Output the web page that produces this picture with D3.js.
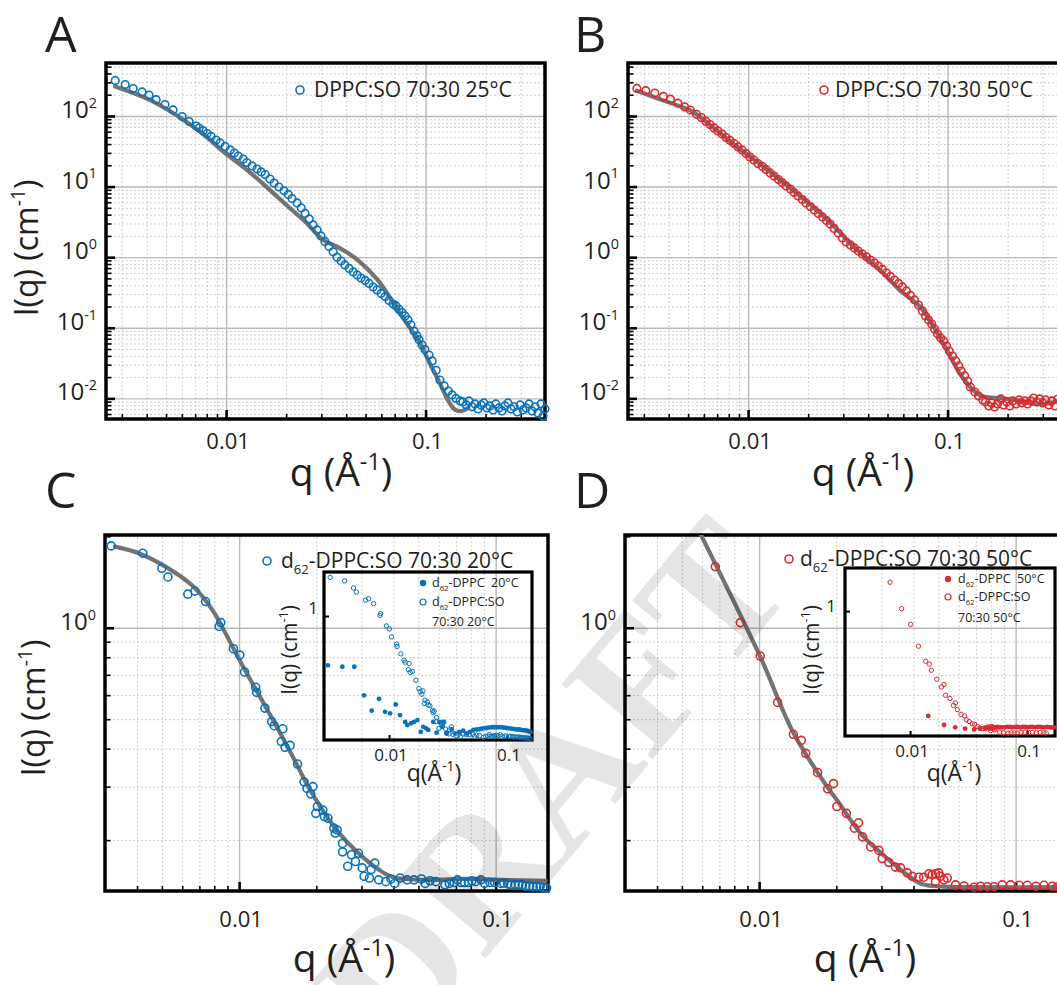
<!DOCTYPE html>
<html>
<head>
<meta charset="utf-8">
<title>SANS fits</title>
<script src="https://cdn.jsdelivr.net/npm/d3@7/dist/d3.min.js"></script>
<style>
  body { margin: 0; background: #fff; }
  svg { display: block; font-family: "Open Sans", "Noto Sans", sans-serif; }
  text { white-space: pre; }
</style>
</head>
<body>
<div id="figure"></div>
<script>
// ---- data (q in 1/A, I in 1/cm) ----

// A: DPPC:SO 70:30 25C
const qA = [0.00278,0.00312,0.00342,0.00379,0.00411,0.00446,0.00494,0.00542,0.00602,0.00653,
  0.00708,0.00733,0.00767,0.00803,0.00841,0.00891,0.00933,0.00989,
  0.0105,0.011,0.0115,0.0122,0.0127,0.0135,0.0143,0.015,0.0157,0.0166,0.0174,0.0184,0.0195,
  0.0205,0.0214,0.0227,0.0238,0.0249,0.0261,0.0273,0.0286,0.0299,
  0.0313,0.0328,0.0344,0.036,0.0377,0.0394,0.0414,0.0434,0.0454,0.0475,0.0498,
  0.0521,0.0546,0.0571,0.0598,0.0627,0.0656,0.0687,0.0711,0.0736,0.0762,0.0789,0.0817,0.0845,0.0875,0.0906,0.0927,0.096,0.0993,
  0.104,0.108,0.113,0.118,0.124,0.13,0.136,0.142,0.149,
  0.154,0.16,0.165,0.171,0.177,0.183,0.19,0.196,0.203,0.21,0.218,0.225,0.233,0.242,0.25,0.259,0.268,0.278,0.288,0.298,0.308,0.319,0.33,0.342,0.354,0.366,0.379,0.388,0.397];
const iA = [319,279,245,219,198,170,145,122,98,83.4,
  72,67.6,62,56.5,51.3,45.7,41.5,37,
  33,29.9,27.1,24.6,21.9,19.6,17.7,16.1,14.8,12.8,11.2,9.87,8.7,
  7.73,6.78,5.86,4.98,4.16,3.48,2.86,2.43,2.0,
  1.67,1.42,1.19,1.0,0.883,0.776,0.692,0.617,0.56,0.507,0.468,
  0.424,0.378,0.343,0.306,0.277,0.244,0.217,0.204,0.182,0.164,0.147,0.129,0.11,0.09,0.0766,0.0678,0.057,0.0493,
  0.041,0.0339,0.025,0.0182,0.015,0.0127,0.0112,0.00998,0.00919,
  0.0089,0.00807,0.00919,0.00759,0.00834,0.00708,0.00807,0.00861,0.00731,0.0078,0.00686,0.00834,0.00731,0.00663,0.0078,0.00861,0.00708,0.00759,0.00641,0.00807,0.00686,0.00731,0.00834,0.00663,0.00759,0.00621,0.00834,0.00562,0.00708];
const qFitA = [0.00278,0.00409,0.0056,0.00764,0.00966,0.0132,0.0166,0.021,0.0246,0.031,0.0364,0.0459,0.0578,0.0679,0.0789,0.0927,0.104,0.117,0.131,0.141,0.152,0.163];
const iFitA = [262,172,104,56,31.5,15.8,8.9,4.9,3.3,1.72,1.39,0.904,0.468,0.24,0.125,0.065,0.0332,0.0171,0.0089,0.00686,0.00663,0.00731];

// B: DPPC:SO 70:30 50C
const qB = [0.00277,0.00307,0.00341,0.00376,0.00408,0.00445,0.00481,0.00513,0.00551,0.00583,
  0.00615,0.00644,0.00675,0.00706,0.0074,0.00775,0.00812,0.00851,0.00891,0.00933,0.00977,
  0.0102,0.0107,0.0112,0.0118,0.0123,0.0129,0.0135,0.0142,0.0148,0.0155,0.0163,0.017,0.0178,0.0187,0.0195,
  0.0205,0.0215,0.0225,0.0236,0.0247,0.0258,0.027,0.0283,0.0297,0.031,0.0326,0.0341,0.0357,0.0374,0.0392,
  0.041,0.043,0.045,0.0471,0.0493,0.0517,0.0542,0.0568,0.0594,0.0622,0.0652,0.0683,0.0715,0.0748,0.0775,0.0803,0.0832,0.0861,0.0891,0.0923,0.0955,0.0989,
  0.102,0.106,0.11,0.114,0.117,0.122,0.126,0.13,0.137,0.143,0.15,
  0.155,0.161,0.166,0.172,0.178,0.185,0.191,0.198,0.205,0.212,0.22,0.228,0.235,0.244,0.252,0.261,0.27,0.28,0.29,0.3,0.31,0.322,0.333,0.345,0.357];
const iB = [246,228,211,189,173,152,134.5,121.6,105.7,94.8,
  83.6,75.8,67.7,61.4,55.6,49.6,45,40.8,36.4,33,29.4,
  26.2,23.8,21.2,19.3,17.5,15.6,14.1,12.6,11.4,10.2,9.24,8.24,7.36,6.56,5.86,
  5.22,4.66,4.16,3.71,3.31,2.95,2.55,2.2,1.87,1.64,1.49,1.35,1.22,1.11,1.01,
  0.912,0.828,0.75,0.67,0.597,0.533,0.475,0.425,0.379,0.332,0.287,0.248,0.21,0.173,0.147,0.129,0.113,0.0962,0.0817,0.0717,0.065,0.0552,
  0.0469,0.0398,0.0339,0.0288,0.0244,0.0208,0.0176,0.0145,0.0123,0.0108,0.00949,
  0.0089,0.0078,0.00861,0.00755,0.00834,0.00982,0.00807,0.0089,0.0078,0.00919,0.00834,0.00949,0.00861,0.00919,0.00834,0.00919,0.0101,0.0089,0.00982,0.00861,0.00949,0.00807,0.00919,0.0078,0.00982];
const qFitB = [0.00277,0.0038,0.00518,0.00656,0.00895,0.0122,0.018,0.0246,0.0336,0.0458,0.0578,0.073,0.0855,0.0998,0.116,0.136,0.153,0.186,0.226,0.274,0.321,0.37,0.4];
const iFitB = [228,164,118,72,35.2,18.3,7.6,3.53,1.44,0.659,0.339,0.197,0.101,0.0469,0.0218,0.0127,0.0105,0.0101,0.00933,0.00834,0.00847,0.00949,0.0101];

// C: d62-DPPC:SO 70:30 20C (also the open symbols of the C inset)
const qC = [0.00317,0.00421,0.005,0.00528,0.00631,0.00672,0.0074,0.00836,0.00848,0.0095,
  0.01006,0.0105,0.0116,0.0117,0.0126,0.0134,0.0137,0.0148,0.0146,0.0151,
  0.0158,0.0169,0.0179,0.0184,0.0194,0.019,0.0202,0.0212,0.0199,0.0215,
  0.0222,0.0234,0.0241,0.0237,0.0253,0.0253,0.0274,0.0292,0.0284,0.0265,
  0.0302,0.0307,0.0327,0.0338,0.0322,0.035,0.0373,0.0391,0.0404,0.0424,
  0.0452,0.0481,0.0514,0.0531,0.0555,0.0585,0.0634,0.066,0.0688,0.071,
  0.0734,0.0757,0.0783,0.0808,0.0835,0.0877,0.0906,0.095,0.099,0.105,
  0.1075,0.1115,0.1145,0.119,0.123,0.127,0.131,0.1355,0.14,0.1445,0.149,0.154,0.158];
const iC = [1.86,1.76,1.57,1.47,1.29,1.32,1.22,1.01,1.04,0.853,
  0.813,0.715,0.637,0.613,0.544,0.491,0.476,0.465,0.422,0.404,
  0.41,0.356,0.311,0.296,0.3,0.284,0.258,0.251,0.245,0.239,
  0.236,0.219,0.216,0.211,0.195,0.183,0.179,0.181,0.17,0.164,
  0.162,0.152,0.16,0.168,0.15,0.148,0.146,0.149,0.144,0.15,
  0.148,0.148,0.149,0.144,0.147,0.146,0.1425,0.144,0.145,0.148,
  0.145,0.145,0.145,0.147,0.146,0.148,0.144,0.145,0.145,0.144,
  0.1445,0.1435,0.1425,0.143,0.1425,0.1425,0.141,0.1413,0.1405,0.1405,0.1405,0.1396,0.139];
const qFitC = [0.00328,0.00406,0.00516,0.00655,0.00784,0.0094,0.0105,0.0117,0.0135,0.0161,0.0184,0.0212,0.0244,0.0288,0.035,0.0398,0.055,0.0755,0.105,0.157];
const iFitC = [1.85,1.76,1.59,1.38,1.15,0.87,0.73,0.62,0.5,0.38,0.305,0.25,0.212,0.183,0.16,0.151,0.148,0.149,0.148,0.147];

// D: d62-DPPC:SO 70:30 50C (also the open symbols of the D inset)
const qD = [0.00675,0.00845,0.0101,0.0118,0.0136,0.0146,0.0152,0.0169,0.0185,0.0195,
  0.0201,0.0219,0.0235,0.0244,0.0253,0.0272,0.0293,0.0302,0.032,0.034,
  0.0356,0.0378,0.0395,0.0419,0.0438,0.0459,0.0473,0.0487,0.0501,0.0509,
  0.0525,0.0541,0.0487,0.0583,0.0629,0.0688,0.073,0.0776,0.0823,0.0887,
  0.0956,0.103,0.111,0.12,0.129,0.139,0.1455];
const iD = [1.59,1.04,0.807,0.568,0.446,0.426,0.386,0.334,0.295,0.307,
  0.258,0.245,0.219,0.228,0.205,0.19,0.185,0.174,0.169,0.163,
  0.162,0.156,0.152,0.151,0.151,0.155,0.154,0.155,0.156,0.152,
  0.148,0.15,0.146,0.1425,0.1413,0.14,0.141,0.1405,0.1405,0.1425,
  0.1425,0.142,0.142,0.141,0.142,0.141,0.1405];
const qFitD = [0.0058,0.0101,0.0136,0.0184,0.0201,0.0248,0.0297,0.0356,0.0426,0.0524,0.0708,0.161];
const iFitD = [2.1,0.803,0.451,0.3,0.271,0.211,0.182,0.16,0.144,0.1406,0.14,0.14];

// insets: filled symbols, d62-DPPC alone
const qInC = [0.00303,0.00402,0.00508,0.00614,0.00713,0.00822,0.00925,0.0102,0.0114,0.0124,
  0.0137,0.0143,0.0154,0.0163,0.0174,0.0186,0.0195,0.0206,0.0215,0.0237,
  0.0253,0.0267,0.028,0.0289,0.0308,0.034,0.0362,0.0394,0.0426,0.0455,
  0.0485,0.0518,0.0553,0.0582,0.061,0.064,0.0673,0.0705,0.0742,0.078,0.0818,0.086,0.0902,0.0946,
  0.0994,0.104,0.1096,0.115,0.121,0.127,0.133,0.14,0.147,0.153,0.159];
const iInC = [0.452,0.442,0.442,0.279,0.218,0.264,0.214,0.209,0.241,0.203,
  0.182,0.173,0.178,0.182,0.1875,0.155,0.168,0.164,0.16,0.182,
  0.153,0.182,0.168,0.182,0.151,0.161,0.151,0.155,0.158,0.151,
  0.155,0.16,0.161,0.162,0.163,0.164,0.165,0.166,0.167,0.167,0.167,0.167,0.167,0.166,
  0.165,0.164,0.163,0.162,0.161,0.161,0.16,0.159,0.158,0.156,0.1545];
const qInD = [0.0143,0.0195,0.0243,0.0295,0.0352,0.0396,0.0437,0.0455,0.0483,0.0508,0.0533,0.056,0.0588,0.0618,
  0.0648,0.068,0.0716,0.075,0.0789,0.083,0.0871,0.0915,0.0962,0.101,0.106,0.111,0.117,0.123,0.129,0.135,0.1425,0.149,0.157,0.163,0.17];
const iInD = [0.185,0.16,0.154,0.151,0.149,0.151,0.153,0.152,0.151,0.153,0.154,0.155,0.154,0.154,
  0.154,0.155,0.155,0.154,0.155,0.155,0.154,0.155,0.155,0.154,0.155,0.155,0.154,0.155,0.155,0.154,0.154,0.155,0.154,0.154,0.154];

// ---- styling ----
const W = 1057, H = 985;
const blue = "#0a72ba", red = "#dc2a2e", fitGray = "#737373", ink = "#231f20";

const panels = [
  { letter: "A", lx: 45, ly: 52, x0: 106, x1: 545, y0: 63, y1: 419,
    qDom: [0.0025, 0.397], iDom: [0.0051, 563], q: qA, I: iA, fq: qFitA, fi: iFitA,
    color: blue, r: 3.8, xLabDy: 30,
    legend: { cx: 300, cy: 90, tx: 314, ty: 97, parts: [{ t: "DPPC:SO 70:30 25°C" }] },
    yTitle: { x: 38, y: 248 }, xTitle: { x: 341, y: 486 } },
  { letter: "B", lx: 574, ly: 52, x0: 628, x1: 1067, y0: 63, y1: 419,
    qDom: [0.0025, 0.397], iDom: [0.0051, 563], q: qB, I: iB, fq: qFitB, fi: iFitB,
    color: red, r: 3.8, xLabDy: 30,
    legend: { cx: 824, cy: 90, tx: 835, ty: 97, parts: [{ t: "DPPC:SO 70:30 50°C" }] },
    yTitle: null, xTitle: { x: 863, y: 486 } },
  { letter: "C", lx: 45, ly: 508, x0: 105, x1: 548, y0: 535, y1: 891,
    qDom: [0.003, 0.16], iDom: [0.136, 2.02], q: qC, I: iC, fq: qFitC, fi: iFitC,
    color: blue, r: 4, xLabDy: 36,
    legend: { cx: 267, cy: 561, tx: 281, ty: 568, parts: [{ t: "d" }, { sub: "62" }, { t: "-DPPC:SO 70:30 20°C" }] },
    yTitle: { x: 45, y: 708 }, xTitle: { x: 344, y: 972 },
    inset: { x0: 324, x1: 532, y0: 572, y1: 740, qDom: [0.00281, 0.163], iDom: [0.136, 2.03],
      fq: qInC, fi: iInC, oneX: 318, oneY: 614, yT: { x: 297, y: 650 }, xT: { x: 434, y: 781 },
      lg: { cx: 423, tx: 432, y1: 587, y2: 606, y3: 626, a: "  20°C", b: "70:30 20°C" } } },
  { letter: "D", lx: 574, ly: 508, x0: 625, x1: 1068, y0: 535, y1: 891,
    qDom: [0.003, 0.16], iDom: [0.136, 2.02], q: qD, I: iD, fq: qFitD, fi: iFitD,
    color: red, r: 4, xLabDy: 36,
    legend: { cx: 789, cy: 559, tx: 800, ty: 566, parts: [{ t: "d" }, { sub: "62" }, { t: "-DPPC:SO 70:30 50°C" }] },
    yTitle: null, xTitle: { x: 865, y: 972 },
    inset: { x0: 845, x1: 1055, y0: 568, y1: 736, qDom: [0.00278, 0.173], iDom: [0.134, 2.0],
      fq: qInD, fi: iInD, oneX: 836, oneY: 612, yT: { x: 819, y: 650 }, xT: { x: 954, y: 781 },
      lg: { cx: 948, tx: 958, y1: 583, y2: 601, y3: 622, a: "  50°C", b: "70:30 50°C" } } }
];

// ---- helpers ----
const svg = d3.select("#figure").append("svg")
  .attr("width", W).attr("height", H).attr("viewBox", `0 0 ${W} ${H}`);
svg.append("rect").attr("width", W).attr("height", H).attr("fill", "#fff");
const defs = svg.append("defs");

function pairs(q, v) {
  const n = Math.min(q.length, v.length);
  return d3.range(n).map(i => [q[i], v[i]]);
}

// 1..9 x 10^n inside the domain
function logTicks(dom) {
  const out = [];
  const lo = Math.floor(Math.log10(dom[0])), hi = Math.ceil(Math.log10(dom[1]));
  for (let e = lo; e <= hi; e++) {
    for (let k = 1; k < 10; k++) {
      const v = +(k * Math.pow(10, e)).toPrecision(6);
      if (v > dom[0] * 1.0001 && v < dom[1] * 0.9999) out.push({ v, major: k === 1 });
    }
  }
  return out;
}

// text with sup/sub parts
function richText(parent, x, y, parts, size, anchor) {
  const t = parent.append("text").attr("x", x).attr("y", y)
    .attr("font-size", size).attr("fill", ink).attr("text-anchor", anchor || "start");
  let shift = 0;
  parts.forEach(p => {
    const s = t.append("tspan");
    let target = 0, fs = size;
    if (p.sup != null) { target = -size * 0.42; fs = size * 0.6; s.text(p.sup); }
    else if (p.sub != null) { target = size * 0.3; fs = size * 0.62; s.text(p.sub); }
    else s.text(p.t);
    s.attr("font-size", fs).attr("dy", target - shift);
    shift = target;
  });
  return t;
}

function axisLines(g, axisFn, scale, vals, size, translate, stroke, width, dash) {
  const a = g.append("g").attr("transform", translate)
    .call(axisFn(scale).tickValues(vals).tickSize(size).tickFormat(""));
  a.select(".domain").remove();
  a.selectAll("line").attr("stroke", stroke).attr("stroke-width", width)
    .attr("stroke-dasharray", dash || null);
  return a;
}

function drawPanel(p, idx) {
  const g = svg.append("g");
  const x = d3.scaleLog().domain(p.qDom).range([p.x0, p.x1]);
  const y = d3.scaleLog().domain(p.iDom).range([p.y1, p.y0]);
  const xt = logTicks(p.qDom), yt = logTicks(p.iDom);
  const w = p.x1 - p.x0, h = p.y1 - p.y0;
  const minor = t => t.filter(d => !d.major).map(d => d.v);
  const major = t => t.filter(d => d.major).map(d => d.v);

  // grid
  axisLines(g, d3.axisBottom, x, minor(xt), -h, `translate(0,${p.y1})`, "#c9c9c9", 0.9, "2,2");
  axisLines(g, d3.axisLeft, y, minor(yt), -w, `translate(${p.x0},0)`, "#c9c9c9", 0.9, "2,2");
  axisLines(g, d3.axisBottom, x, major(xt), -h, `translate(0,${p.y1})`, "#b9b9b9", 1.4);
  axisLines(g, d3.axisLeft, y, major(yt), -w, `translate(${p.x0},0)`, "#b9b9b9", 1.4);

  // frame
  g.append("rect").attr("x", p.x0).attr("y", p.y0).attr("width", w).attr("height", h)
    .attr("fill", "none").attr("stroke", "#000").attr("stroke-width", 3.5);

  // inward ticks
  axisLines(g, d3.axisBottom, x, minor(xt), -4, `translate(0,${p.y1 - 1})`, "#000", 1.6);
  axisLines(g, d3.axisBottom, x, major(xt), -8, `translate(0,${p.y1 - 1})`, "#000", 2.6);
  axisLines(g, d3.axisLeft, y, minor(yt), -4.5, `translate(${p.x0 + 1},0)`, "#000", 1.6);
  axisLines(g, d3.axisLeft, y, major(yt), -8, `translate(${p.x0 + 1},0)`, "#000", 2.6);

  // tick labels
  major(yt).forEach(v => {
    const e = Math.round(Math.log10(v));
    richText(g, p.x0 - 9, y(v) + 2, [{ t: "10" }, { sup: String(e) }], 24, "end");
  });
  major(xt).forEach(v => {
    g.append("text").attr("x", x(v) + 2).attr("y", p.y1 + p.xLabDy)
      .attr("text-anchor", "middle").attr("font-size", 22).attr("fill", ink)
      .text(v >= 0.1 ? "0.1" : "0.01");
  });

  // fit curve
  const cid = "clip" + idx;
  defs.append("clipPath").attr("id", cid).append("rect")
    .attr("x", p.x0).attr("y", p.y0).attr("width", w).attr("height", h);
  const line = d3.line().x(d => x(d[0])).y(d => y(d[1])).curve(d3.curveCatmullRom.alpha(0.5));
  g.append("path").datum(pairs(p.fq, p.fi)).attr("d", line)
    .attr("fill", "none").attr("stroke", fitGray).attr("stroke-width", 4.2)
    .attr("stroke-linecap", "round").attr("clip-path", `url(#${cid})`);

  // data (open markers, no fill)
  g.append("g").selectAll("circle").data(pairs(p.q, p.I)).join("circle")
    .attr("cx", d => x(d[0])).attr("cy", d => y(d[1])).attr("r", p.r)
    .attr("fill", "none").attr("stroke", p.color).attr("stroke-width", 1.6);

  // legend
  g.append("circle").attr("cx", p.legend.cx).attr("cy", p.legend.cy).attr("r", 4)
    .attr("fill", "none").attr("stroke", p.color).attr("stroke-width", 1.6);
  richText(g, p.legend.tx, p.legend.ty, p.legend.parts, 21);

  // titles
  g.append("text").attr("x", p.lx).attr("y", p.ly).attr("font-size", 50).attr("fill", ink).text(p.letter);
  richText(g, p.xTitle.x, p.xTitle.y, [{ t: "q (Å" }, { sup: "-1" }, { t: ")" }], 39, "middle");
  if (p.yTitle) {
    richText(g, 0, 0, [{ t: "I(q) (cm" }, { sup: "-1" }, { t: ")" }], 32, "middle")
      .attr("transform", `translate(${p.yTitle.x},${p.yTitle.y}) rotate(-90)`);
  }

  if (p.inset) drawInset(p, idx);
}

function drawInset(p, idx) {
  const s = p.inset;
  const g = svg.append("g");
  const x = d3.scaleLog().domain(s.qDom).range([s.x0, s.x1]);
  const y = d3.scaleLog().domain(s.iDom).range([s.y1, s.y0]);

  g.append("rect").attr("x", s.x0).attr("y", s.y0).attr("width", s.x1 - s.x0).attr("height", s.y1 - s.y0)
    .attr("fill", "none").attr("stroke", "#000").attr("stroke-width", 3.2);
  axisLines(g, d3.axisBottom, x, [0.01, 0.1], -4, `translate(0,${s.y1 - 1})`, "#000", 2);
  axisLines(g, d3.axisLeft, y, [1], -4, `translate(${s.x0 + 1},0)`, "#000", 2);

  [0.01, 0.1].forEach(v => {
    g.append("text").attr("x", x(v) + 2).attr("y", s.y1 + 21).attr("text-anchor", "middle")
      .attr("font-size", 17).attr("fill", ink).text(v === 0.1 ? "0.1" : "0.01");
  });
  g.append("text").attr("x", s.oneX).attr("y", s.oneY).attr("text-anchor", "end")
    .attr("font-size", 17).attr("fill", ink).text("1");

  richText(g, 0, 0, [{ t: "I(q) (cm" }, { sup: "-1" }, { t: ")" }], 21, "middle")
    .attr("transform", `translate(${s.yT.x},${s.yT.y}) rotate(-90)`);
  richText(g, s.xT.x, s.xT.y, [{ t: "q(Å" }, { sup: "-1" }, { t: ")" }], 23, "middle");

  // open: the blend (same set as the main panel), filled: pure d62-DPPC
  g.append("g").selectAll("circle").data(pairs(p.q, p.I)).join("circle")
    .attr("cx", d => x(d[0])).attr("cy", d => y(d[1])).attr("r", 2.2)
    .attr("fill", "none").attr("stroke", p.color).attr("stroke-width", 1);
  g.append("g").selectAll("circle").data(pairs(s.fq, s.fi)).join("circle")
    .attr("cx", d => x(d[0])).attr("cy", d => y(d[1])).attr("r", 2.4)
    .attr("fill", p.color);

  // inset legend
  const L = s.lg;
  g.append("circle").attr("cx", L.cx).attr("cy", L.y1 - 4).attr("r", 3.2).attr("fill", p.color);
  richText(g, L.tx, L.y1, [{ t: "d" }, { sub: "62" }, { t: "-DPPC" + L.a }], 12.5);
  g.append("circle").attr("cx", L.cx).attr("cy", L.y2 - 4).attr("r", 3).attr("fill", "none")
    .attr("stroke", p.color).attr("stroke-width", 1.2);
  richText(g, L.tx, L.y2, [{ t: "d" }, { sub: "62" }, { t: "-DPPC:SO" }], 12.5);
  richText(g, L.tx, L.y3, [{ t: L.b }], 12.5);
}

panels.forEach(drawPanel);

// watermark
svg.append("text")
  .attr("transform", "translate(552,785) rotate(-50)")
  .attr("text-anchor", "middle").attr("dominant-baseline", "central")
  .attr("font-family", "Liberation Serif, serif").attr("font-weight", "bold")
  .attr("font-size", 180).attr("fill", "#000").attr("fill-opacity", 0.1)
  .text("DRAFT");
</script>
</body>
</html>
